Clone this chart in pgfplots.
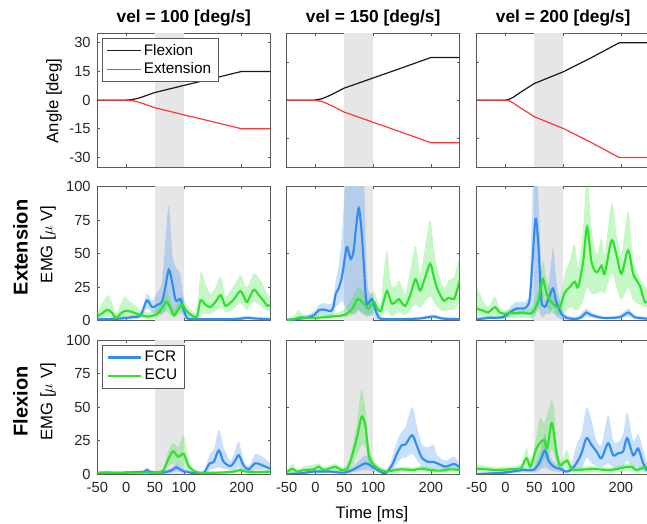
\documentclass[border=0pt]{standalone}
\usepackage{fontspec}
\setmainfont{Liberation Sans}
\usepackage{pgfplots}
\usepackage{pgfplotstable}
\pgfplotsset{compat=1.18}
\usepgfplotslibrary{fillbetween}

\definecolor{fcrc}{RGB}{51,140,240}
\definecolor{ecuc}{RGB}{45,225,45}
\definecolor{shadec}{RGB}{230,230,230}
\definecolor{extc}{RGB}{255,55,55}
\definecolor{flxc}{RGB}{25,25,25}
\definecolor{framec}{RGB}{90,90,90}

% angle traces: t, flexion, extension
\pgfplotstableread{
t f e
-50 0 0
0 0 0
10 0.25 -0.25
20 0.9 -0.9
30 1.9 -1.9
40 2.95 -2.95
50 4.0 -4.0
100 7.7 -7.7
150 11.3 -11.3
200 15 -15
250 15 -15
}\angA
\pgfplotstableread{
t f e
-50 0 0
-2 0 0
10 0.6 -0.6
20 1.8 -1.8
30 3.2 -3.2
40 4.8 -4.8
50 6.3 -6.3
100 11.6 -11.6
150 16.9 -16.9
200 22.3 -22.3
250 22.3 -22.3
}\angB
\pgfplotstableread{
t f e
-50 0 0
0 0 0
6 0.4 -0.4
13 1.4 -1.4
25 3.9 -3.9
50 8.7 -8.7
100 14.8 -14.8
150 22.4 -22.4
197 30 -30
250 30 -30
}\angC

% EMG, extension trials: t, mean, lower, upper
\pgfplotstableread{
t m lo hi
-50 1 0 2
-30 1 0 2
-10 1.5 0.5 3
10 2.5 1 4
25 4 2 6
36 15 9 20
45 10 6 15
55 12 5 22
62 14 5 28
68 25 8 60
74 38 12 86
80 28 8 50
86 15 5 40
94 16 8 34
100 8 3 15
106 1.5 0.5 5
120 1 0.3 2
150 1 0.3 2
180 1 0.3 2
200 1.5 0.5 3
210 2 1 3.5
225 1.5 0.5 2.5
250 1 0.3 2
}\eFa
\pgfplotstableread{
t m lo hi
-50 3 1 6
-40 6 2 14
-32 8 3 19
-25 6 2 14
-18 2 0.5 5
-10 5 2 12
-3 7 3 18
5 7 3 15
13 6 3 12
25 4 2 8
39 3 1 6
54 5 2 10
63 10 5 17
70 14 7 22
77 9 4 15
83 4 2 8
90 8 4 14
97 12 6 18
105 7 3 12
117 3 1 6
123 3 1 8
129 15 5 36
137 12 5 28
146 10 5 20
155 14 7 25
164 19 10 33
172 11 6 18
180 13 7 22
187 16 9 26
198 22 13 34
205 17 10 28
210 14 8 25
221 23 14 35
230 19 12 32
236 16 10 28
245 11 7 20
250 12 7 18
}\eEa
\pgfplotstableread{
t m lo hi
-50 0.5 0 1
-35 1 0 2
-26 1.5 0.5 3
-15 2 1 4
-3 4 2 7
7 8 4 12
17 8 4 13
26 7 3 12
31 10 4 16
35 20 10 30
40 24 12 40
46 33 15 65
52 50 10 110
55 55 8 130
61 46 5 130
66 52 5 130
70 68 5 130
75 84 8 130
80 66 5 130
84 40 5 110
88 14 3 45
92 13 3 22
98 16 4 20
104 8 1 12
110 2 0 5
120 1 0 2
150 1 0 2
180 1.5 0.5 2.5
205 3 1.5 4.5
220 1.5 0.5 2.5
250 1 0 2
}\eFb
\pgfplotstableread{
t m lo hi
-50 0.5 0 1
-38 1 0 3
-30 2 0.5 8
-26 2.5 1 6
-15 2 1 4
0 2 1 4
15 2.5 1 4.5
30 3 1.5 5
49 4 2 8
57 6 3 12
64 9 4 17
73 16 8 25
80 14 6 23
84 12.5 5 22
92 9 4 16
101 14 6 22
107 9 4 16
113 7 3 12
118 14 5 35
124 22 8 52
130 15 4 30
133 12.5 3 25
139 14 5 26
144.5 16 6 30
150 13 5 25
156 11 4 20
165 20 8 40
173 31 12 56
178 26 10 45
182 22.5 10 35
190 32 14 55
199 42.5 18 75
205 33 14 55
211 24 10 40
222 15 7 25
231 17 8 30
240 16 8 32
245 22 10 40
250 30 15 48
}\eEb
\pgfplotstableread{
t m lo hi
-50 1 0 2
-27 2 1 3.5
-4 2.5 1 4
7.5 6 3 10
19 9 4 14
31 9 4 14
36 10 4 15
42 16 5 25
47 46 0 100
52 76 5 130
56.6 59 10 95
62 16 3 40
66 11 3 20
70 11 5 15
77 19 5 35
82.7 24 10 55
88 14 3 30
97 5 1 10
106 2 0.5 4
123 1.2 0.5 3
133 3 1 6
140 6 3 9
149 4 2 6
169 2 1 3
198 2.5 1 4
213 6 3 9
224 2.5 1 4
250 1.2 0.5 2.5
}\eFc
\pgfplotstableread{
t m lo hi
-50 9 3 25
-44 8 3 20
-39 7.5 3 15
-30 6 2 10
-18.5 10 4 18
-10 6 2 9
0 5 2 8
7.5 5.5 2 8
20 5.5 2 9
30.6 6 2 9
45 5.5 2 10
56.6 14 8 22
61 24 12 36
65.3 31 18 45
72 19 10 30
82.7 12.5 5 18
94 10 4 15
103 21 6 35
111.6 25 10 45
120 29 8 57
126 25 8 40
134.7 44 15 70
141.6 70 25 110
149 44 20 70
158 36 20 50
166.5 41 22 62
172 35 20 50
184 60 35 88
192.5 49 25 65
201 35 15 50
212.7 52.5 25 82
221.4 35 15 45
233 26 12 32
241.6 14 10 25
250 15 10 25
}\eEc

% EMG, flexion trials
\pgfplotstableread{
t m lo hi
-50 0.5 0 1.5
-33 1 0 2.5
-15.6 0.5 0 1.5
0 1 0 2
18 1.3 0.3 2.5
30 1.5 0.5 3
36.4 3 1 5
42 1.5 0.5 3
56.6 1 0.3 2
70 1.5 0.5 3
80 3 1 5
87.3 5 2 8
97 2.5 1 5
111.6 1 0.3 2
125 0.8 0.3 1.5
134.7 1 0.3 2
145 8 3 15
152 9 4 18
160.7 17.6 5 33
169 9 4 20
181 6 3 10
189 10 3 18
195.4 14 5 24
204 6 2 10
212.7 3.5 1 6
224 8 3 15
238.7 6 3 12
250 4 2 8
}\fFa
\pgfplotstableread{
t m lo hi
-50 1 0.3 2
-20 1 0.3 2
0 1 0.3 2
30 1 0.3 2
50 1 0.3 2
60 1.5 0.5 3
65 3 1 5
74 12 6 18
81.5 17 8 23
89.6 13 7 20
95 14 6 25
100 15 5 29
108.7 5.5 2 10
120 1.8 0.5 3
129 1 0.3 2
160 1 0.3 2
187 1.8 0.5 3
198 3 1.5 4.5
207 1.8 0.5 3
230 1.5 0.5 2.5
250 1.8 0.5 3
}\fEa
\pgfplotstableread{
t m lo hi
-50 0 0 1
-26 0.5 0 1.5
-3 1.8 0.5 3
26 1.8 0.5 3
49 1 0.3 2
66.5 3.5 1.5 6
86.7 8 3 14
98 5.5 2 10
112.7 1.8 0.5 3
121.4 0.5 0 1.5
133 6.8 3 12
141.6 15.5 8 25
150 21.8 12 32
156 22 12 35
167.6 29 15 50
176.3 20.5 10 35
185 11.8 5 22
196.5 9 4 20
205 9 4 22
211 8 4 14
225.4 5.5 3 10
240 7.5 3 13
250 5 2 8
}\fFb
\pgfplotstableread{
t m lo hi
-50 1 0.3 2
-40.5 4 1 8
-31.8 1.8 0.5 3
-20 3 1 6
-3 3.5 1 7
5.8 5.5 2 8
14.5 3 1 5
34.7 5.5 2 8
43.4 3 1 5
55 4 1.5 7
63.6 14 6 20
72.3 28 15 40
78 40 20 60
81 43 22 63
86.7 35.5 20 48
92.5 14 7 22
101 6.8 3 10
112.7 3 1 5
124 1.8 0.5 3
138.7 3 1 5
150 3.5 1.5 5.5
170.5 3 1 5
182 4 2 6
199.4 3 1 5
216.8 2.5 1 4
234 3.5 1.5 5.5
250 3 1 5
}\fEb
\pgfplotstableread{
t m lo hi
-50 0 0 1
-21 0.5 0 1.5
1.7 1.2 0.3 2.5
30.6 3 1 5
48 3 1 5
59.5 9 3 15
68.2 17.5 5 30
75.7 9 3 15
85.5 5 2 8
94 4 1.5 7
105.8 1.8 0.5 3
114.5 3.5 1 8
123 8 3 22
131.8 15.5 3 30
140.5 26.8 12 50
149 21.8 8 40
158 16.8 6 25
166.5 11.8 5 22
178 23 8 44
186.7 14 5 25
195.4 15.5 5 24
204 16.8 6 30
211 26.8 10 46
221.4 14 5 25
230 19 5 30
238.7 8 2 18
245 3 1 8
250 2 0.5 5
}\fFc
\pgfplotstableread{
t m lo hi
-50 4 1.5 7
-33 3.5 1.5 6
-15.6 3 1 5
7.5 3.5 1.5 5.5
22 4 2 6
27.7 4.8 2 7
36.4 11.8 5 20
43.4 5.5 2 10
52.6 18 8 25
59.5 23 5 42
67 25.5 12 38
72.3 19.3 10 45
79.8 38 18 55
84 30 15 50
88.4 15.5 8 25
94.2 6.8 3 10
100 8 4 12
107 10 4 18
114.5 4 2 6
123 3 1 5
152 3.8 1.5 6
181 3 1 5
215.6 5.5 2.5 8
227 3 1 5
245 5.5 2.5 8
250 5 2 8
}\fEc

\pgfplotsset{
  /tikz/fill between/on layer=main,
  panel/.style={
    scale only axis, width=129.75pt, height=100.3pt, anchor=south west,
    xmin=-50, xmax=250, xtick={-50,0,50,100,200}, xticklabels={},
    tick align=inside, major tick length=2pt,
    axis line style={framec, line width=0.5pt},
    every tick/.style={framec, line width=0.5pt},
    ticklabel style={font=\fontsize{11}{13}\selectfont, text=black!85},
    xticklabel style={yshift=-3pt},
    yticklabel style={xshift=-1.5pt},
    every axis title/.style={at={(0.5,1)}, anchor=south, yshift=3pt, inner sep=2pt,
      font=\fontsize{13}{15}\selectfont\bfseries},
    legend style={at={(0.025,0.965)}, anchor=north west, draw=framec, fill=white,
      font=\fontsize{11.5}{13}\selectfont, inner xsep=3.5pt, inner ysep=2.5pt,
      cells={anchor=west}},
    legend image code/.code={\draw[##1] (0pt,0pt) -- (25pt,0pt);},
  },
  emg/.style={panel, ymin=0, ymax=100, ytick={0,50,100}, yticklabels={}},
  ang/.style={panel, ymin=-35, ymax=35, ytick={-20,0,20}, yticklabels={}},
  bottomx/.style={xticklabels={-50,0,50,100,200}},
  fcrl/.style={fcrc, line width=1.6pt, smooth},
  ecul/.style={ecuc, line width=1.6pt, smooth},
}

\newcommand{\grayspan}{%
  \addplot[fill=shadec, draw=none, forget plot]
    coordinates {(50,-200) (100,-200) (100,200) (50,200)} -- cycle;}
\newcommand{\emgband}[3]{%
  \addplot[name path=hi#3, draw=none, smooth, forget plot] table[x=t,y=hi]{#1};
  \addplot[name path=lo#3, draw=none, smooth, forget plot] table[x=t,y=lo]{#1};
  \addplot[fill=#2, fill opacity=0.27, draw=none, forget plot] fill between[of=hi#3 and lo#3];}
\newcommand{\angplots}[1]{%
  \addplot[flxc, line width=0.9pt] table[x=t,y=f]{#1};
  \addplot[extc, line width=0.9pt] table[x=t,y=e]{#1};}
\newcommand{\emgpanel}[2]{%
  \grayspan
  \emgband{#1}{fcrc}{a}
  \emgband{#2}{ecuc}{b}
  \addplot[fcrl] table[x=t,y=m]{#1};
  \addplot[ecul] table[x=t,y=m]{#2};}

\begin{document}
\begin{tikzpicture}
% row 1: joint angle
\begin{axis}[ang, at={(73pt,267.75pt)}, ytick={-30,-15,0,15,30},
  yticklabels={-30,-15,0,15,30}, title={vel = 100 [deg/s]}]
\grayspan
\angplots{\angA}
\addlegendentry{Flexion}
\addlegendentry{Extension}
\end{axis}
\begin{axis}[ang, at={(215pt,267.75pt)}, title={vel = 150 [deg/s]}]
\grayspan
\angplots{\angB}
\end{axis}
\begin{axis}[ang, at={(357.5pt,267.75pt)}, title={vel = 200 [deg/s]}]
\grayspan
\angplots{\angC}
\end{axis}

% row 2: EMG, extension
\begin{axis}[emg, at={(73pt,152.6pt)}, ytick={0,25,50,75,100},
  yticklabels={0,25,50,75,100}]
\emgpanel{\eFa}{\eEa}
\end{axis}
\begin{axis}[emg, at={(215pt,152.6pt)}]
\emgpanel{\eFb}{\eEb}
\end{axis}
\begin{axis}[emg, at={(357.5pt,152.6pt)}]
\emgpanel{\eFc}{\eEc}
\end{axis}

% row 3: EMG, flexion
\begin{axis}[emg, bottomx, at={(73pt,37.5pt)}, ytick={0,25,50,75,100},
  yticklabels={0,25,50,75,100}]
\emgpanel{\fFa}{\fEa}
\addlegendentry{FCR}
\addlegendentry{ECU}
\end{axis}
\begin{axis}[emg, bottomx, at={(215pt,37.5pt)}]
\emgpanel{\fFb}{\fEb}
\end{axis}
\begin{axis}[emg, bottomx, at={(357.5pt,37.5pt)}]
\emgpanel{\fFc}{\fEc}
\end{axis}

\node[rotate=90, font=\fontsize{12.5}{14}\selectfont] at (40.5pt,317.25pt) {Angle [deg]};
\node[rotate=90, font=\fontsize{15}{17}\selectfont\bfseries] at (15.4pt,207.4pt) {Extension};
\node[rotate=90, font=\fontsize{12.5}{14}\selectfont] at (36pt,209.6pt) {EMG [$\mu$ V]};
\node[rotate=90, font=\fontsize{15}{17}\selectfont\bfseries] at (15.4pt,91.9pt) {Flexion};
\node[rotate=90, font=\fontsize{12.5}{14}\selectfont] at (36pt,91.7pt) {EMG [$\mu$ V]};
\node[font=\fontsize{12.5}{14}\selectfont] at (279pt,7.5pt) {Time [ms]};

\pgfresetboundingbox
\path[use as bounding box] (0,0) rectangle (485.25pt,393pt);
\end{tikzpicture}
\end{document}
